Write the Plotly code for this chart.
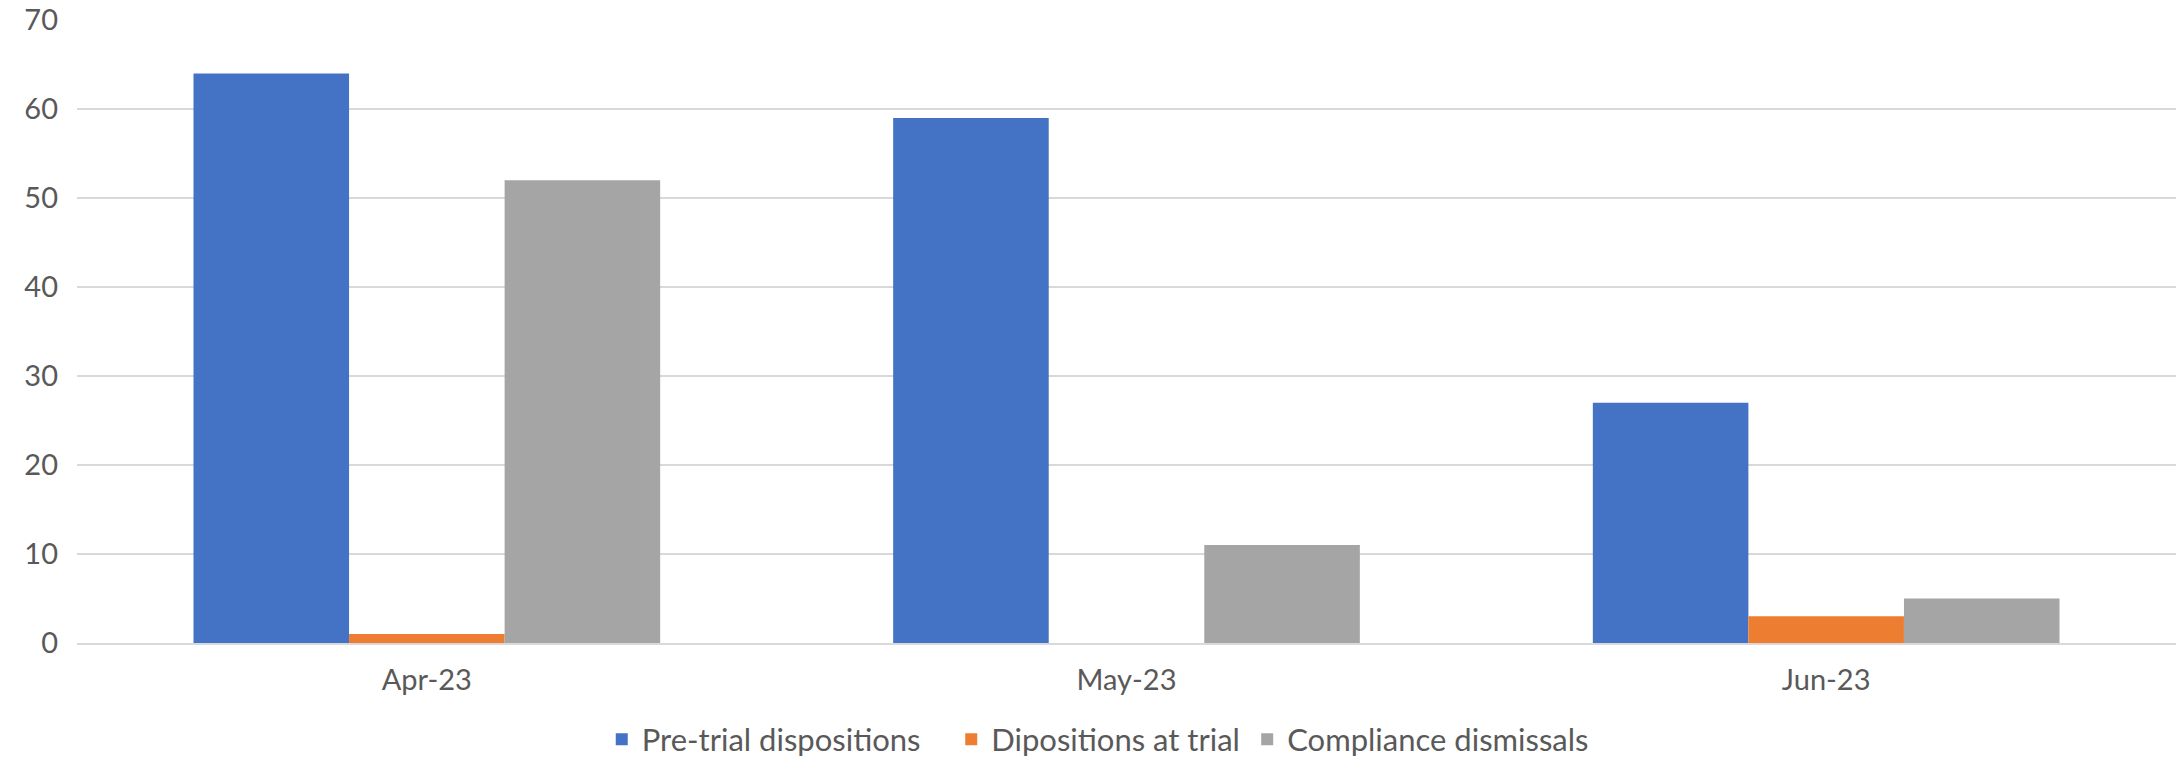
import plotly.graph_objects as go

months = ["Apr-23", "May-23", "Jun-23"]
pre_trial = [64, 59, 27]
at_trial = [1, 0, 3]
compliance = [52, 11, 5]
y_ticks = [0, 10, 20, 30, 40, 50, 60, 70]

series = [
    ("Pre-trial dispositions", pre_trial, "#4472C4"),
    ("Dipositions at trial", at_trial, "#ED7D31"),
    ("Compliance dismissals", compliance, "#A5A5A5"),
]
# one legend per series so each entry sits where the reference puts it
legend_ids = ["legend", "legend2", "legend3"]
legend_x = [0.250, 0.4165, 0.5575]

fig = go.Figure()
for (name, vals, color), lid in zip(series, legend_ids):
    fig.add_trace(go.Bar(x=months, y=vals, name=name, legend=lid,
                         marker=dict(color=color, line=dict(width=0))))

font_family = "Lato, 'Open Sans', sans-serif"
legend_style = dict(
    orientation="h",
    xanchor="left",
    yref="container",
    y=0.032,
    yanchor="middle",
    font=dict(size=31, color="#595959"),
    itemwidth=30,
    bgcolor="rgba(0,0,0,0)",
)
fig.update_layout(
    width=2178,
    height=764,
    showlegend=True,
    barmode="group",
    bargap=0.333,
    bargroupgap=0,
    plot_bgcolor="white",
    paper_bgcolor="white",
    margin=dict(l=77, r=2, t=20, b=121),
    font=dict(family=font_family, size=29, color="#595959"),
    **{lid: dict(legend_style, x=lx) for lid, lx in zip(legend_ids, legend_x)},
)
fig.update_xaxes(showgrid=False, showline=True, linecolor="#d9d9d9", linewidth=2,
                 ticks="", tickfont=dict(size=29), ticklabelstandoff=10, automargin=False)
fig.update_yaxes(range=[0, 70], tickvals=y_ticks, showgrid=True, gridcolor="#d9d9d9",
                 gridwidth=1.5, zeroline=False, ticks="", tickfont=dict(size=29),
                 ticklabelstandoff=18, automargin=False)

# drop the default page margin so the figure sits at the window's corner
fig.write_html("out.html", config={"displayModeBar": False},
               post_script="document.body.style.margin='0';")
